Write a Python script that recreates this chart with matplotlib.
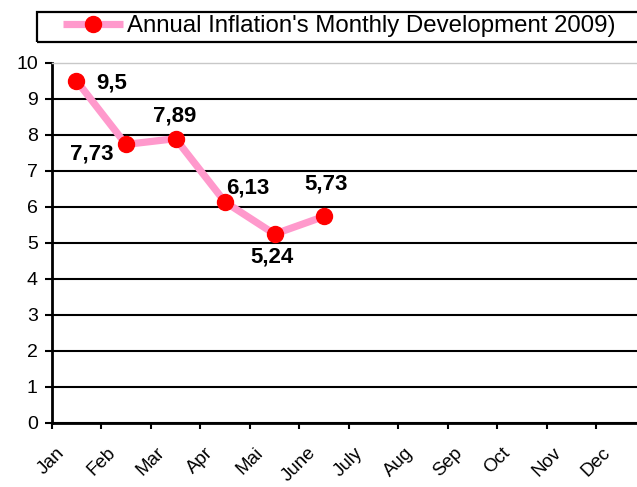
import numpy as np
import matplotlib.pyplot as plt
from matplotlib.patches import Rectangle

plt.rcParams['font.family'] = ['Liberation Sans', 'DejaVu Sans']

months = ['Jan', 'Feb', 'Mar', 'Apr', 'Mai', 'June', 'July', 'Aug', 'Sep', 'Oct', 'Nov', 'Dec']
inflation = [9.5, 7.73, 7.89, 6.13, 5.24, 5.73]  # Jan..June 2009
series_name = "Annual Inflation's Monthly Development 2009)"
label_offsets = [(25.6, -1.4), (-24.8, -7), (-0.7, 16.6), (16.2, 10), (-2, -16.6), (1.4, 23.4)]  # points

W, H = 637, 487
fig = plt.figure(figsize=(W / 100, H / 100), dpi=100)
ax = fig.add_axes([51.7 / W, 1 - 422.7 / H, (646 - 51.7) / W, (422.7 - 62.7) / H])

x = np.arange(len(inflation))
line, = ax.plot(x, inflation, color='#FF99CC', lw=5.2, marker='o', markersize=11.5,
                markerfacecolor='#FF0000', markeredgecolor='#FF0000', solid_capstyle='butt',
                zorder=3, clip_on=False)

for xi, v, off in zip(x, inflation, label_offsets):
    ax.annotate(str(v).replace('.', ','), (xi, v), xytext=off, textcoords='offset points',
                ha='center', va='center', fontsize=16, fontweight='bold', zorder=4)

ax.set_xlim(-0.5, 11.5)
ax.set_ylim(0, 10)
ax.set_yticks(range(11))
ax.set_xticks(np.arange(13) - 0.5)
ax.set_xticklabels(months + [''], rotation=45, ha='center', va='top', fontsize=13.5)
ax.tick_params(axis='x', length=4.5, width=1.5, pad=11, color='black')
ax.tick_params(axis='y', length=5, width=1.5, pad=5, labelsize=14)

ax.yaxis.grid(True, color='black', lw=1.5)
ax.set_axisbelow(True)
fig.canvas.draw()
ax.get_ygridlines()[-1].set_visible(False)

for s in ['left', 'bottom']:
    ax.spines[s].set_linewidth(2)
ax.spines['right'].set_visible(False)
ax.spines['top'].set_color('#C8C8C8')
ax.spines['top'].set_linewidth(1)

# legend box across the top
fig.patches.append(Rectangle((36.7 / W, 1 - 41.7 / H), (700 - 36.7) / W, 30 / H,
                             transform=fig.transFigure, fill=False, edgecolor='black',
                             lw=1.6, zorder=5))
fig.legend([line], [series_name], loc='center left', bbox_to_anchor=(63 / W, 1 - 26 / H),
           frameon=False, fontsize=17.3, handlelength=2.5, handletextpad=0.17,
           borderpad=0, borderaxespad=0)

fig.savefig('out.png', dpi=100)
